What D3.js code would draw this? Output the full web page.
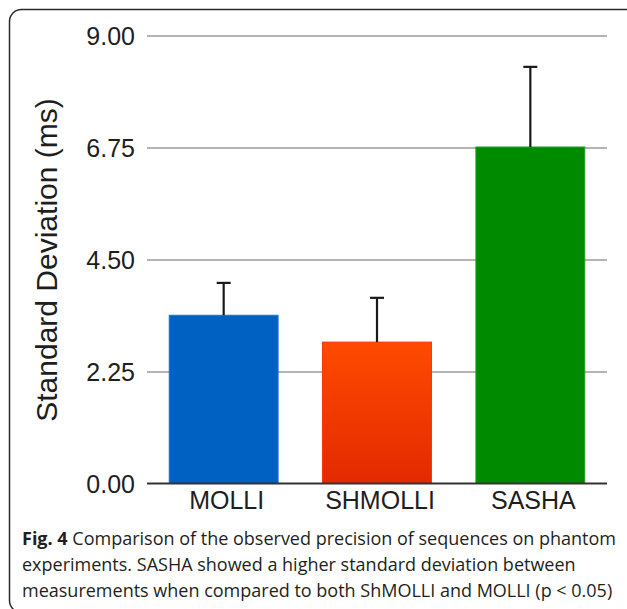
<!DOCTYPE html>
<html>
  <head>
    <meta charset="utf-8">
    <script src="https://d3js.org/d3.v7.min.js"></script>
    <title>Fig. 4</title>
    <style>
      body { margin: 0; background: #fff; }
      svg { display: block; }
      .tick text { font-family: "Liberation Sans", Arial, sans-serif; fill: #1e1e1e; }
      .gridlines line { stroke: #9a9a9a; stroke-width: 1.5; }
      .gridlines .domain { stroke: none; }
      .caption { font-family: "Open Sans", sans-serif; font-size: 18px; fill: #231f20; }
    </style>
  </head>
  <body>
    <svg id="chart" width="627" height="609"></svg>
    <script>
      const svg = d3.select("svg#chart");
      const margin = {"top": 35.5, "left": 147, "right": 20, "bottom": 125.5};
      const width = 627;
      const height = 609;
      const chartWidth = width - margin.left - margin.right;
      const chartHeight = height - margin.top - margin.bottom;

      // data
      const sequences = ["MOLLI", "SHMOLLI", "SASHA"];
      const sdMeans = [3.38, 2.84, 6.76];
      const sdErrors = [0.65, 0.89, 1.61];
      const yTicks = [0, 2.25, 4.5, 6.75, 9];
      const captionLines = [
        ["Fig. 4", " Comparison of the observed precision of sequences on phantom"],
        ["", "experiments. SASHA showed a higher standard deviation between"],
        ["", "measurements when compared to both ShMOLLI and MOLLI (p < 0.05)"]
      ];

      const bars = sequences.map((s, i) => ({"name": s, "mean": sdMeans[i], "err": sdErrors[i]}));

      // frame round the figure
      svg.append("rect")
        .attr("x", 9.5).attr("y", 9.5)
        .attr("width", 700).attr("height", 603)
        .attr("rx", 12)
        .attr("fill", "none")
        .attr("stroke", "#2a2a2a")
        .attr("stroke-width", 1.5);

      const x = d3.scaleBand().domain(sequences).range([0, chartWidth])
        .paddingInner(0.29).paddingOuter(0.145);
      const y = d3.scaleLinear().domain([0, 9]).range([chartHeight, 0]);

      const chart = svg.append("g").attr("transform", "translate(" + margin.left + "," + margin.top + ")");

      // gridlines
      chart.append("g")
        .attr("class", "gridlines")
        .call(d3.axisLeft(y).tickValues(yTicks.slice(1)).tickSize(-chartWidth).tickFormat(""));

      // y tick labels
      let leftAxis = d3.axisLeft(y).tickValues(yTicks).tickSize(0).tickPadding(12).tickFormat(d3.format(".2f"));
      chart.append("g").attr("class", "y axis").call(leftAxis)
        .call(g => g.select(".domain").remove())
        .selectAll("text").style("font-size", "25px").attr("dy", "0.36em");

      // gradient for the SHMOLLI bar
      const defs = svg.append("defs");
      const grad = defs.append("linearGradient").attr("id", "redgrad")
        .attr("x1", 0).attr("y1", 0).attr("x2", 0).attr("y2", 1);
      grad.append("stop").attr("offset", "0%").attr("stop-color", "#ff4a00");
      grad.append("stop").attr("offset", "100%").attr("stop-color", "#e22a00");

      const fills = {"MOLLI": "#0061c2", "SHMOLLI": "url(#redgrad)", "SASHA": "#008a00"};
      const strokes = {"MOLLI": "#1a72dc", "SHMOLLI": "#ff3000", "SASHA": "#22a022"};

      chart.selectAll("rect.bar").data(bars)
        .join("rect")
          .attr("class", "bar")
          .attr("x", d => x(d.name))
          .attr("y", d => y(d.mean))
          .attr("width", x.bandwidth())
          .attr("height", d => y(0) - y(d.mean))
          .attr("fill", d => fills[d.name])
          .attr("stroke", d => strokes[d.name])
          .attr("stroke-width", 1);

      // error bars (upper only)
      const err = chart.selectAll("g.err").data(bars).join("g").attr("class", "err")
        .attr("stroke", "#1a1a1a").attr("stroke-width", 2.2);
      err.append("line")
        .attr("x1", d => x(d.name) + x.bandwidth() / 2)
        .attr("x2", d => x(d.name) + x.bandwidth() / 2)
        .attr("y1", d => y(d.mean))
        .attr("y2", d => y(d.mean + d.err));
      err.append("line")
        .attr("x1", d => x(d.name) + x.bandwidth() / 2 - 7)
        .attr("x2", d => x(d.name) + x.bandwidth() / 2 + 7)
        .attr("y1", d => y(d.mean + d.err))
        .attr("y2", d => y(d.mean + d.err));

      // zero line
      chart.append("line")
        .attr("x1", 0).attr("x2", chartWidth)
        .attr("y1", y(0)).attr("y2", y(0))
        .attr("stroke", "#333").attr("stroke-width", 2);

      // x labels
      let bottomAxis = d3.axisBottom(x).tickSize(0).tickPadding(8);
      chart.append("g").attr("class", "x axis")
        .attr("transform", "translate(0," + chartHeight + ")")
        .call(bottomAxis)
        .call(g => g.select(".domain").remove())
        .selectAll("text").style("font-size", "25px").attr("dx", "3px");

      // y title
      svg.append("text")
        .attr("transform", "translate(57,260) rotate(-90)")
        .attr("text-anchor", "middle")
        .style("font-family", "'Liberation Sans', Arial, sans-serif")
        .style("font-size", "30px")
        .style("fill", "#1e1e1e")
        .text("Standard Deviation (ms)");

      // caption
      const capBase = [544.5, 570.5, 596.5];
      captionLines.forEach((parts, i) => {
        const t = svg.append("text").attr("class", "caption").attr("x", 22).attr("y", capBase[i]);
        if (parts[0]) t.append("tspan").style("font-weight", "bold").text(parts[0]);
        t.append("tspan").text(parts[1]);
      });
    </script>
  </body>
</html>
